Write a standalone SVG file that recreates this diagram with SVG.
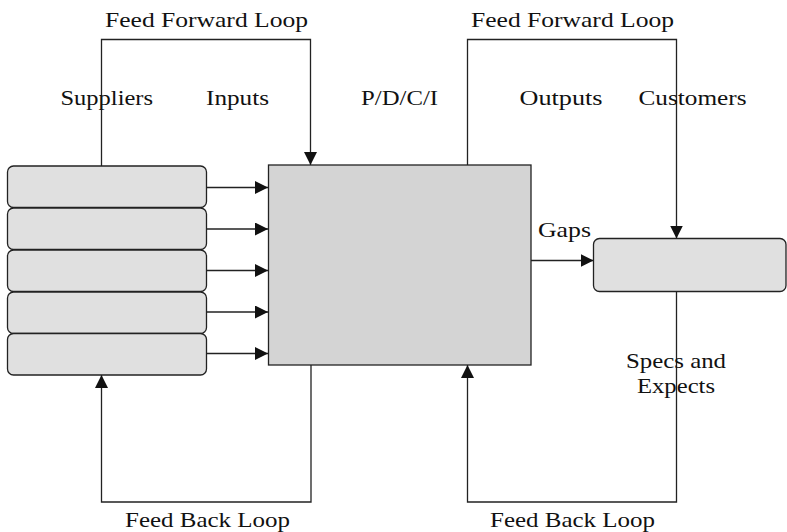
<svg xmlns="http://www.w3.org/2000/svg" width="787" height="532" viewBox="0 0 787 532">
  <style>
    .lbl { font-family: "Liberation Serif", "Times New Roman", serif; font-size: 21.5px; fill: #111; }
    .sup { fill: #e0e0e0; stroke: #222; stroke-width: 1.3; }
    .proc { fill: #d4d4d4; stroke: #222; stroke-width: 1.3; }
    .wire { fill: none; stroke: #222; stroke-width: 1.3; }
  </style>
  <defs>
    <marker id="arr" viewBox="0 0 13 13" refX="13" refY="6.5" markerWidth="13" markerHeight="13" markerUnits="userSpaceOnUse" orient="auto">
      <path d="M0,0 L13,6.5 L0,13 Z" fill="#111"/>
    </marker>
  </defs>
  <rect width="787" height="532" fill="#fff"/>

  <!-- connectors -->
  <g id="connectors">
    <!-- supplier to process feeds -->
    <line class="wire" x1="207" y1="187.5" x2="268" y2="187.5" marker-end="url(#arr)"/>
    <line class="wire" x1="207" y1="229" x2="268" y2="229" marker-end="url(#arr)"/>
    <line class="wire" x1="207" y1="270.5" x2="268" y2="270.5" marker-end="url(#arr)"/>
    <line class="wire" x1="207" y1="312" x2="268" y2="312" marker-end="url(#arr)"/>
    <line class="wire" x1="207" y1="353.5" x2="268" y2="353.5" marker-end="url(#arr)"/>
    <!-- feed forward loops -->
    <polyline class="wire" points="101.5,166 101.5,39.5 310.5,39.5 310.5,165" marker-end="url(#arr)"/>
    <polyline class="wire" points="467.5,165 467.5,39.5 676.5,39.5 676.5,238.5" marker-end="url(#arr)"/>
    <!-- gaps -->
    <line class="wire" x1="531" y1="260.5" x2="593.5" y2="260.5" marker-end="url(#arr)"/>
    <!-- feed back loops -->
    <polyline class="wire" points="311,365 311,502 101.5,502 101.5,375" marker-end="url(#arr)"/>
    <polyline class="wire" points="676.5,291.5 676.5,502 467.5,502 467.5,365" marker-end="url(#arr)"/>
  </g>

  <!-- suppliers stack -->
  <g id="suppliers">
    <rect class="sup" x="7.5" y="166" width="199" height="41.5" rx="6"/>
    <rect class="sup" x="7.5" y="208" width="199" height="41.5" rx="6"/>
    <rect class="sup" x="7.5" y="250" width="199" height="41.5" rx="6"/>
    <rect class="sup" x="7.5" y="292" width="199" height="41.5" rx="6"/>
    <rect class="sup" x="7.5" y="333.5" width="199" height="41.5" rx="6"/>
  </g>

  <!-- process block -->
  <g id="process">
    <rect class="proc" x="268.5" y="165" width="262.5" height="200"/>
  </g>

  <!-- customer block -->
  <g id="customers">
    <rect class="sup" x="593.5" y="238.5" width="192.5" height="53" rx="6"/>
  </g>

  <!-- labels -->
  <g id="labels">
    <text class="lbl" x="105" y="26.5" textLength="203" lengthAdjust="spacingAndGlyphs">Feed Forward Loop</text>
    <text class="lbl" x="471" y="26.5" textLength="203" lengthAdjust="spacingAndGlyphs">Feed Forward Loop</text>
    <text class="lbl" x="60.5" y="105" textLength="92.5" lengthAdjust="spacingAndGlyphs">Suppliers</text>
    <text class="lbl" x="206" y="105" textLength="63" lengthAdjust="spacingAndGlyphs">Inputs</text>
    <text class="lbl" x="361" y="105" textLength="77" lengthAdjust="spacingAndGlyphs">P/D/C/I</text>
    <text class="lbl" x="519.5" y="105" textLength="83" lengthAdjust="spacingAndGlyphs">Outputs</text>
    <text class="lbl" x="638.5" y="105" textLength="108" lengthAdjust="spacingAndGlyphs">Customers</text>
    <text class="lbl" x="538" y="236.5" textLength="53" lengthAdjust="spacingAndGlyphs">Gaps</text>
    <text class="lbl" x="626" y="367.5" textLength="100" lengthAdjust="spacingAndGlyphs">Specs and</text>
    <text class="lbl" x="637" y="393" textLength="78" lengthAdjust="spacingAndGlyphs">Expects</text>
    <text class="lbl" x="125" y="526.5" textLength="165" lengthAdjust="spacingAndGlyphs">Feed Back Loop</text>
    <text class="lbl" x="490" y="526.5" textLength="165" lengthAdjust="spacingAndGlyphs">Feed Back Loop</text>
  </g>
</svg>
